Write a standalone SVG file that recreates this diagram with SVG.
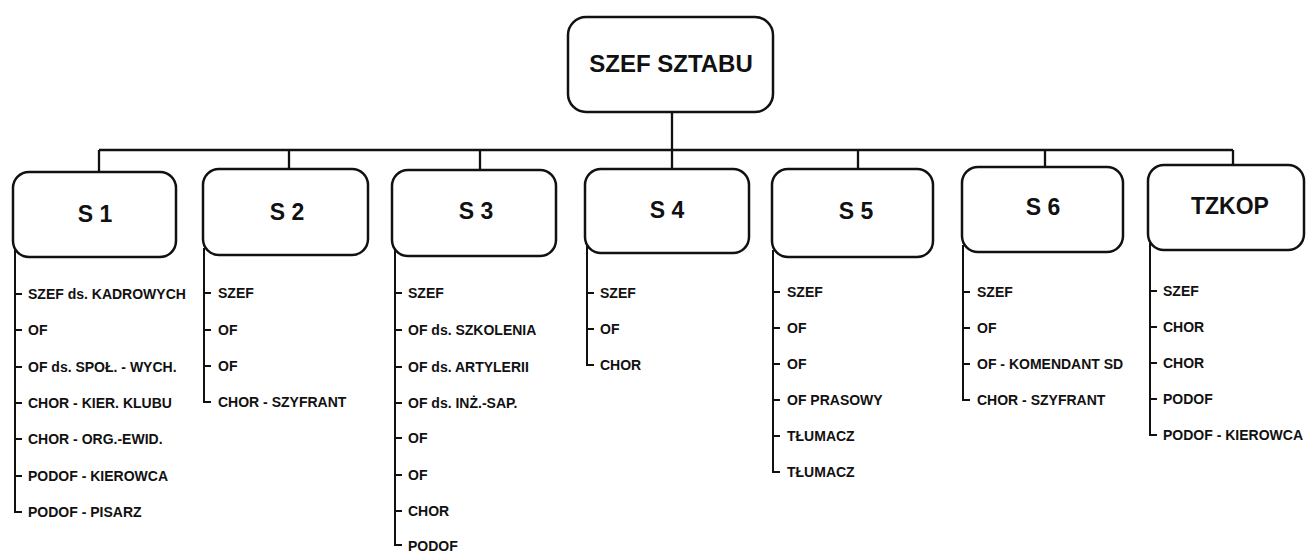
<svg xmlns="http://www.w3.org/2000/svg" width="1307" height="552" viewBox="0 0 1307 552">
<style>
.box{fill:#fff;stroke:#111;stroke-width:2.5}
.ln{fill:none;stroke:#111;stroke-width:2.3}
.tl{fill:none;stroke:#111;stroke-width:2}
.hd{font-family:"Liberation Sans",Arial,sans-serif;font-weight:bold;font-size:23px;fill:#111;text-anchor:middle}
.top{font-size:24px}
.it{font-family:"Liberation Sans",Arial,sans-serif;font-weight:bold;font-size:14px;fill:#111}
</style>
<rect width="1307" height="552" fill="#fff"/>
<g id="connectors" class="ln">
<path d="M672 112V150M99 150H1233M99 150V172M289 150V169M480 150V170M672 150V169M858 150V169M1045 150V167M1233 150V165"/>
</g>
<g id="szef-sztabu"><rect class="box" x="568" y="17" width="205" height="95" rx="18"/><text class="hd top" x="671" y="72">SZEF SZTABU</text></g>
<g id="s1"><rect class="box" x="13" y="172" width="163" height="85" rx="16"/><text class="hd" x="95" y="222">S 1</text>
<path class="tl" d="M15 250V512H22M15 294H22M15 330H22M15 367H22M15 403H22M15 439H22M15 476H22"/>
<g class="it"><text x="28" y="299">SZEF ds. KADROWYCH</text><text x="28" y="335">OF</text><text x="28" y="372">OF ds. SPOŁ. - WYCH.</text><text x="28" y="408">CHOR - KIER. KLUBU</text><text x="28" y="444">CHOR - ORG.-EWID.</text><text x="28" y="481">PODOF - KIEROWCA</text><text x="28" y="517">PODOF - PISARZ</text></g></g>
<g id="s2"><rect class="box" x="203" y="169" width="165" height="86" rx="16"/><text class="hd" x="287" y="220">S 2</text>
<path class="tl" d="M204 248V402H211M204 293H211M204 330H211M204 366H211"/>
<g class="it"><text x="218" y="298">SZEF</text><text x="218" y="335">OF</text><text x="218" y="371">OF</text><text x="218" y="407">CHOR - SZYFRANT</text></g></g>
<g id="s3"><rect class="box" x="392" y="170" width="164" height="86" rx="16"/><text class="hd" x="476" y="219">S 3</text>
<path class="tl" d="M395 249V545H402M395 293H402M395 330H402M395 367H402M395 403H402M395 438H402M395 475H402M395 511H402"/>
<g class="it"><text x="408" y="298">SZEF</text><text x="408" y="335">OF ds. SZKOLENIA</text><text x="408" y="372">OF ds. ARTYLERII</text><text x="408" y="408">OF ds. INŻ.-SAP.</text><text x="408" y="443">OF</text><text x="408" y="480">OF</text><text x="408" y="516">CHOR</text><text x="408" y="551">PODOF</text></g></g>
<g id="s4"><rect class="box" x="585" y="169" width="164" height="84" rx="16"/><text class="hd" x="667" y="218">S 4</text>
<path class="tl" d="M587 246V365H594M587 293H594M587 329H594"/>
<g class="it"><text x="600" y="298">SZEF</text><text x="600" y="334">OF</text><text x="600" y="370">CHOR</text></g></g>
<g id="s5"><rect class="box" x="772" y="169" width="161" height="88" rx="16"/><text class="hd" x="856" y="219">S 5</text>
<path class="tl" d="M773 250V472H780M773 292H780M773 328H780M773 364H780M773 400H780M773 436H780"/>
<g class="it"><text x="787" y="297">SZEF</text><text x="787" y="333">OF</text><text x="787" y="369">OF</text><text x="787" y="405">OF PRASOWY</text><text x="787" y="441">TŁUMACZ</text><text x="787" y="477">TŁUMACZ</text></g></g>
<g id="s6"><rect class="box" x="962" y="167" width="161" height="85" rx="16"/><text class="hd" x="1043" y="215">S 6</text>
<path class="tl" d="M963 245V400H970M963 292H970M963 328H970M963 364H970"/>
<g class="it"><text x="977" y="297">SZEF</text><text x="977" y="333">OF</text><text x="977" y="369">OF - KOMENDANT SD</text><text x="977" y="405">CHOR - SZYFRANT</text></g></g>
<g id="tzkop"><rect class="box" x="1148" y="165" width="156" height="85" rx="16"/><text class="hd" x="1230" y="214">TZKOP</text>
<path class="tl" d="M1150 243V435H1157M1150 291H1157M1150 327H1157M1150 363H1157M1150 399H1157"/>
<g class="it"><text x="1163" y="296">SZEF</text><text x="1163" y="332">CHOR</text><text x="1163" y="368">CHOR</text><text x="1163" y="404">PODOF</text><text x="1163" y="440">PODOF - KIEROWCA</text></g></g>
</svg>
